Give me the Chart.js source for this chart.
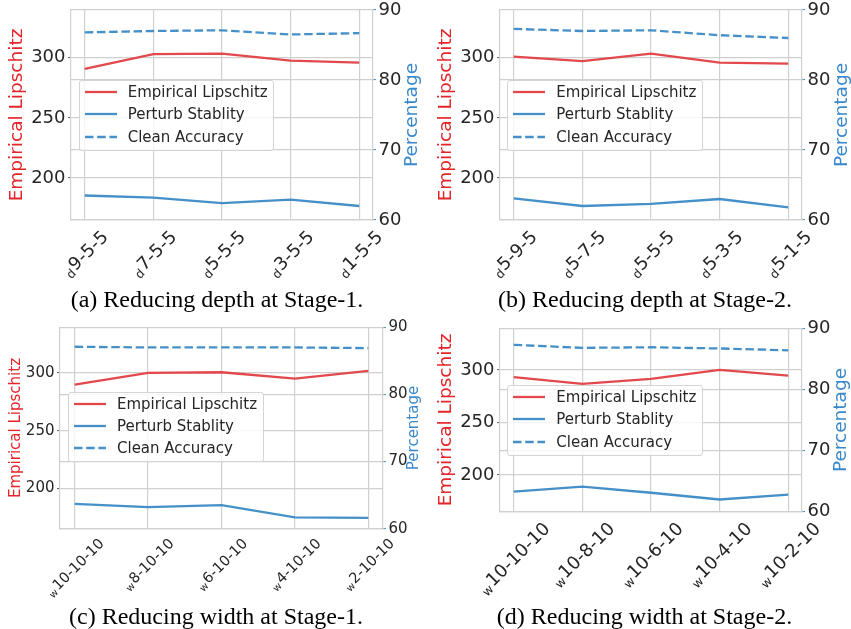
<!DOCTYPE html>
<html>
<head>
<meta charset="utf-8">
<script src="https://cdn.jsdelivr.net/npm/chart.js@4.4.0/dist/chart.umd.min.js"></script>
<style>
  html, body { margin: 0; padding: 0; background: #fff; }
  body { width: 851px; height: 629px; position: relative; overflow: hidden; }
  canvas { position: absolute; }
  .legend { position: absolute; box-sizing: border-box; border: 1px solid #d4d4d4; border-radius: 3px;
            background: rgba(255,255,255,0.8); font-family: "DejaVu Sans", sans-serif; font-size: 15px; color: #262626; }
  .legend .item { position: absolute; left: 0; height: 20px; }
  .legend svg { position: absolute; left: 5px; top: 5px; }
  .legend span { position: absolute; left: 48px; top: 0; line-height: 20px; white-space: nowrap; }
  .caption { position: absolute; font-family: "Liberation Serif", "Times New Roman", serif; font-size: 24px;
             line-height: 1; color: #000; white-space: nowrap; transform: translate(-50%, -50%); }
</style>
</head>
<body>
<canvas id="ca" width="425" height="290" style="left:0px;top:0px"></canvas>
<canvas id="cb" width="426" height="290" style="left:425px;top:0px"></canvas>
<canvas id="cc" width="425" height="305" style="left:0px;top:300px"></canvas>
<canvas id="cd" width="426" height="305" style="left:425px;top:300px"></canvas>
<script>
// ---------------- data ----------------
const seriesNames = ['Empirical Lipschitz', 'Perturb Stablity', 'Clean Accuracy'];
const leftTitle = 'Empirical Lipschitz';
const rightTitle = 'Percentage';

const catA = ['d9-5-5', 'd7-5-5', 'd5-5-5', 'd3-5-5', 'd1-5-5'];
const lipA = [290.6, 302.8, 303.3, 297.5, 295.9];
const stabA = [63.5, 63.2, 62.4, 62.9, 62.0];
const accA = [86.8, 87.0, 87.1, 86.5, 86.7];

const catB = ['d5-9-5', 'd5-7-5', 'd5-5-5', 'd5-3-5', 'd5-1-5'];
const lipB = [300.8, 297.0, 303.3, 295.9, 295.0];
const stabB = [63.1, 62.0, 62.3, 63.0, 61.8];
const accB = [87.3, 87.0, 87.1, 86.4, 86.0];

const catC = ['w10-10-10', 'w8-10-10', 'w6-10-10', 'w4-10-10', 'w2-10-10'];
const lipC = [289.9, 300.0, 300.6, 295.1, 301.7];
const stabC = [63.7, 63.2, 63.5, 61.7, 61.6];
const accC = [87.1, 87.0, 87.0, 87.0, 86.9];

const catD = ['w10-10-10', 'w10-8-10', 'w10-6-10', 'w10-4-10', 'w10-2-10'];
const lipD = [293.1, 286.7, 291.5, 300.0, 294.6];
const stabD = [63.3, 64.1, 63.1, 62.0, 62.8];
const accD = [87.3, 86.8, 86.9, 86.7, 86.4];

const leftTicks = [200, 250, 300];
const rightTicks = [60, 70, 80, 90];
const captions = ['(a) Reducing depth at Stage-1.', '(b) Reducing depth at Stage-2.',
                  '(c) Reducing width at Stage-1.', '(d) Reducing width at Stage-2.'];

// ---------------- style ----------------
const RED_LINE = '#e2484c';
const BLUE_LINE = '#4590c8';
const RED_TEXT = '#e3262b';
const BLUE_TEXT = '#3a88cc';
const GRID = '#d0d0d0';
const TXT = '#262626';
const FONT = '"DejaVu Sans", sans-serif';

const xLabelPlugin = {
  id: 'xlab',
  afterDraw(chart, args, opts) {
    const ctx = chart.ctx;
    const xs = chart.scales.x;
    const bottom = chart.chartArea.bottom;
    const size = opts.size, small = size * 0.68;
    opts.labels.forEach((lab, i) => {
      const pre = lab[0], main = lab.slice(1);
      ctx.save();
      ctx.font = small + 'px ' + FONT;
      const wp = ctx.measureText(pre).width;
      ctx.font = size + 'px ' + FONT;
      const wm = ctx.measureText(main).width;
      const W = wp + wm + 1, H = size * 1.17;
      const half = (W + H) * Math.SQRT1_2 / 2;
      const cx = xs.getPixelForValue(i), cy = bottom + opts.pad + half;
      ctx.translate(cx, cy);
      ctx.rotate(-Math.PI / 4);
      ctx.fillStyle = TXT;
      ctx.textAlign = 'left';
      ctx.textBaseline = 'alphabetic';
      const base = size * 0.35;
      ctx.font = small + 'px ' + FONT;
      ctx.fillText(pre, -W / 2, base + size * 0.15);
      ctx.font = size + 'px ' + FONT;
      ctx.fillText(main, -W / 2 + wp + 1, base);
      ctx.restore();
    });
    // right axis title, reading bottom-to-top like the left one
    const ys = chart.scales.y2;
    ctx.save();
    ctx.translate(opts.rtx, (ys.top + ys.bottom) / 2);
    ctx.rotate(-Math.PI / 2);
    ctx.fillStyle = BLUE_TEXT;
    ctx.font = opts.tsize + 'px ' + FONT;
    ctx.textAlign = 'center';
    ctx.textBaseline = 'middle';
    ctx.fillText(rightTitle, 0, 0);
    ctx.restore();
  }
};

function makePanel(id, g, cats, lip, stab, acc, fs) {
  const pts = arr => arr.map((v, i) => ({ x: i, y: v }));
  const yW = g.left - g.cx, y2W = g.cx + g.w - g.right;
  const xH = g.cy + g.h - g.bottom;
  const padTop = g.top - g.cy;
  const lPad = (g.ltc - g.cx) - fs.title / 2;
  new Chart(document.getElementById(id), {
    type: 'line',
    data: {
      datasets: [
        { label: seriesNames[0], data: pts(lip), yAxisID: 'y', borderColor: RED_LINE, borderWidth: 2.3,
          pointRadius: 0, tension: 0, fill: false },
        { label: seriesNames[1], data: pts(stab), yAxisID: 'y2', borderColor: BLUE_LINE, borderWidth: 2.3,
          pointRadius: 0, tension: 0, fill: false },
        { label: seriesNames[2], data: pts(acc), yAxisID: 'y2', borderColor: BLUE_LINE, borderWidth: 2.3,
          borderDash: [8.5, 3.7], pointRadius: 0, tension: 0, fill: false }
      ]
    },
    options: {
      responsive: false, animation: false, devicePixelRatio: 1,
      layout: { padding: { left: 0, right: 0, top: padTop, bottom: 0 } },
      plugins: { legend: { display: false }, tooltip: { enabled: false },
                 xlab: { labels: cats, size: fs.x, pad: 6, rtx: g.rtc - g.cx, tsize: fs.title } },
      scales: {
        x: {
          type: 'linear', min: -0.2, max: 4.2,
          afterBuildTicks: s => { s.ticks = cats.map((c, i) => ({ value: i })); },
          afterFit: s => { s.height = xH; s.paddingLeft = 0; s.paddingRight = 0; },
          grid: { color: GRID, lineWidth: 1.2, drawTicks: false },
          border: { display: true, color: GRID, width: 1.2 },
          ticks: { display: false }
        },
        y: {
          position: 'left', min: 165.2, max: 339.5,
          afterBuildTicks: s => { s.ticks = leftTicks.map(v => ({ value: v })); },
          afterFit: s => { s.width = yW; s.paddingTop = 0; s.paddingBottom = 0; },
          grid: { color: GRID, lineWidth: 1.2, drawTicks: true, tickLength: 3, tickColor: '#555', tickWidth: 1 },
          border: { display: true, color: GRID, width: 1.2 },
          ticks: { color: TXT, padding: 2.5, font: { family: FONT, size: fs.tick, lineHeight: 1 } },
          title: { display: true, text: leftTitle, color: RED_TEXT,
                   font: { family: FONT, size: fs.title, lineHeight: 1 }, padding: { top: lPad, bottom: 0 } }
        },
        y2: {
          position: 'right', min: 60, max: 90,
          afterBuildTicks: s => { s.ticks = rightTicks.map(v => ({ value: v })); },
          afterFit: s => { s.width = y2W; s.paddingTop = 0; s.paddingBottom = 0; },
          grid: { color: GRID, lineWidth: 1.2, drawTicks: true, tickLength: 3, tickColor: BLUE_LINE, tickWidth: 1 },
          border: { display: true, color: GRID, width: 1.2 },
          ticks: { color: TXT, padding: 2.5, font: { family: FONT, size: fs.tick, lineHeight: 1 } },
          title: { display: false, text: rightTitle }
        }
      }
    },
    plugins: [xLabelPlugin]
  });
}

const bigFont = { tick: 18, title: 18.5, x: 18 };
const smallFont = { tick: 15, title: 15, x: 14.5 };

makePanel('ca', { cx: 0, cy: 0, w: 425, h: 290, left: 71, right: 373, top: 10, bottom: 220, ltc: 17, rtc: 412.5 },
          catA, lipA, stabA, accA, bigFont);
makePanel('cb', { cx: 425, cy: 0, w: 426, h: 290, left: 500, right: 802, top: 10, bottom: 220, ltc: 445.7, rtc: 841.7 },
          catB, lipB, stabB, accB, bigFont);
makePanel('cc', { cx: 0, cy: 300, w: 425, h: 305, left: 60, right: 383, top: 327.3, bottom: 528.7, ltc: 15.8, rtc: 414.5 },
          catC, lipC, stabC, accC, smallFont);
makePanel('cd', { cx: 425, cy: 300, w: 426, h: 305, left: 500, right: 802, top: 328.3, bottom: 511.7, ltc: 445.8, rtc: 841.5 },
          catD, lipD, stabD, accD, bigFont);

// ---------------- legends ----------------
const legendPos = [[78.7, 80], [507.3, 80], [68, 391.7], [507.3, 385]];
const legendStyles = [{ c: RED_LINE, dash: '' }, { c: BLUE_LINE, dash: '' }, { c: BLUE_LINE, dash: '8.5 3.7' }];
const entryOffsets = [12, 34.3, 56.6];
legendPos.forEach(p => {
  const d = document.createElement('div');
  d.className = 'legend';
  d.style.left = p[0] + 'px'; d.style.top = p[1] + 'px';
  d.style.width = '195.5px'; d.style.height = '70.5px';
  seriesNames.forEach((n, i) => {
    const it = document.createElement('div');
    it.className = 'item';
    it.style.top = (entryOffsets[i] - 10 - 1) + 'px';
    it.style.width = '190px';
    it.innerHTML = '<svg width="33" height="10"><line x1="0" y1="5" x2="32" y2="5" stroke="' + legendStyles[i].c +
      '" stroke-width="2.3"' + (legendStyles[i].dash ? ' stroke-dasharray="' + legendStyles[i].dash + '"' : '') +
      '/></svg><span>' + n + '</span>';
    d.appendChild(it);
  });
  document.body.appendChild(d);
});

// ---------------- captions ----------------
const capPos = [[217, 299], [645, 299], [216, 615.5], [644.5, 615.5]];
captions.forEach((t, i) => {
  const c = document.createElement('div');
  c.className = 'caption';
  c.style.left = capPos[i][0] + 'px'; c.style.top = capPos[i][1] + 'px';
  c.textContent = t;
  document.body.appendChild(c);
});
</script>
</body>
</html>
